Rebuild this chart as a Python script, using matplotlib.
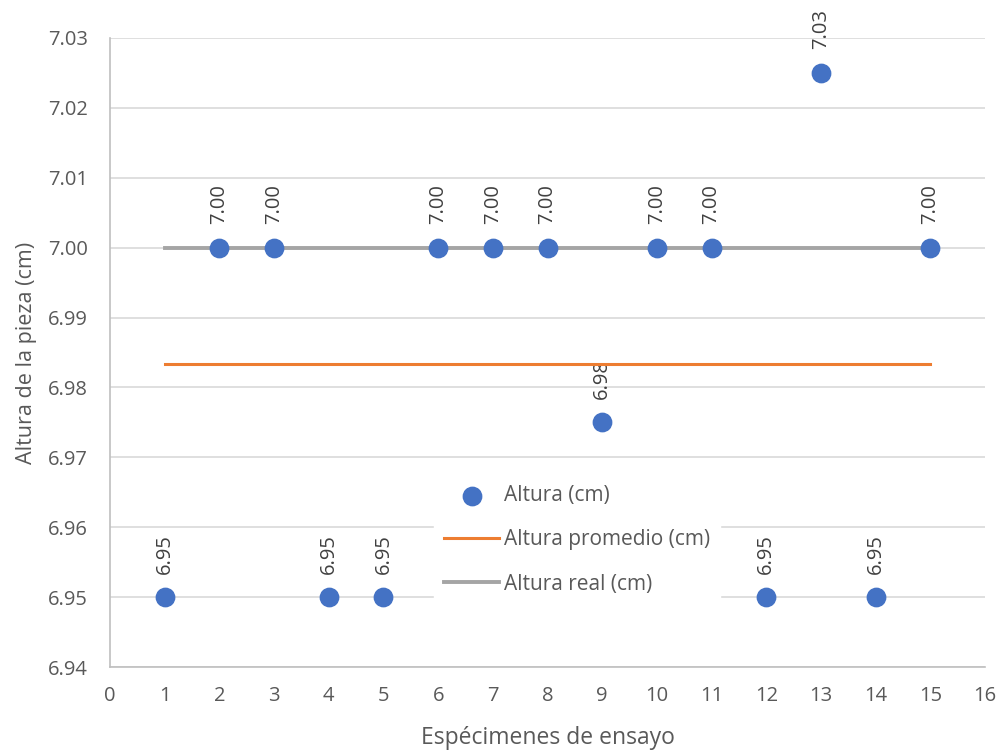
from decimal import Decimal, ROUND_HALF_UP

import matplotlib.pyplot as plt
import numpy as np

plt.rcParams['font.family'] = ['Open Sans', 'DejaVu Sans']

# Specimen numbers and measured heights
especimenes = [1, 2, 3, 4, 5, 6, 7, 8, 9, 10, 11, 12, 13, 14, 15]
altura = [6.95, 7.00, 7.00, 6.95, 6.95, 7.00, 7.00, 7.00, 6.975, 7.00, 7.00, 6.95, 7.025, 6.95, 7.00]
altura_real = 7.00

promedio = np.mean(altura)
text_color = '#595959'
grid_color = '#d9d9d9'


def label_2dp(v):
    # round half up, like the spreadsheet does
    return str(Decimal(str(v)).quantize(Decimal('0.01'), rounding=ROUND_HALF_UP))


fig = plt.figure(figsize=(10, 7.52), dpi=100)
ax = fig.add_axes([0.11, 0.113, 0.875, 0.8365])

ax.set_xlim(0, 16)
ax.set_ylim(6.94, 7.03)
ax.set_xticks(range(0, 17))
ax.set_yticks(np.arange(6.94, 7.0301, 0.01))
ax.yaxis.set_major_formatter(plt.FormatStrFormatter('%.2f'))
ax.grid(axis='y', color=grid_color, linewidth=1.2, zorder=0)
ax.set_axisbelow(True)

for side in ['top', 'right']:
    ax.spines[side].set_visible(False)
for side in ['left', 'bottom']:
    ax.spines[side].set_color('#bfbfbf')
    ax.spines[side].set_linewidth(1.2)
ax.tick_params(axis='y', length=0, labelsize=14.5, colors=text_color, pad=16)
ax.tick_params(axis='x', length=0, labelsize=14.5, colors=text_color, pad=14)

# reference lines from the first to the last specimen
x_line = [especimenes[0], especimenes[-1]]
h_real, = ax.plot(x_line, [altura_real, altura_real], color='#a5a5a5', linewidth=2.8, zorder=2,
                  label='Altura real (cm)')
h_prom, = ax.plot(x_line, [promedio, promedio], color='#ed7d31', linewidth=2.2, zorder=2,
                  label='Altura promedio (cm)')
h_alt = ax.scatter(especimenes, altura, s=175, color='#4472c4', zorder=3, label='Altura (cm)')

for x, y in zip(especimenes, altura):
    ax.annotate(label_2dp(y), (x, y), xytext=(0, 17), textcoords='offset points',
                rotation=90, ha='center', va='bottom', fontsize=14.5, color='#404040',
                zorder=1.5)

ax.set_xlabel('Espécimenes de ensayo', fontsize=16.5, color=text_color, labelpad=14)
ax.set_ylabel('Altura de la pieza (cm)', fontsize=15.5, color=text_color, labelpad=8)

leg = ax.legend(handles=[h_alt, h_prom, h_real], loc='center', bbox_to_anchor=(0.534, 0.202),
                frameon=True, fontsize=15, labelspacing=1.12, handlelength=2.6,
                handletextpad=0.25, borderpad=0.5, borderaxespad=0)
leg.get_frame().set_facecolor('white')
leg.get_frame().set_edgecolor('white')
leg.get_frame().set_alpha(1)
for t in leg.get_texts():
    t.set_color(text_color)

fig.savefig('out.png', dpi=100)
